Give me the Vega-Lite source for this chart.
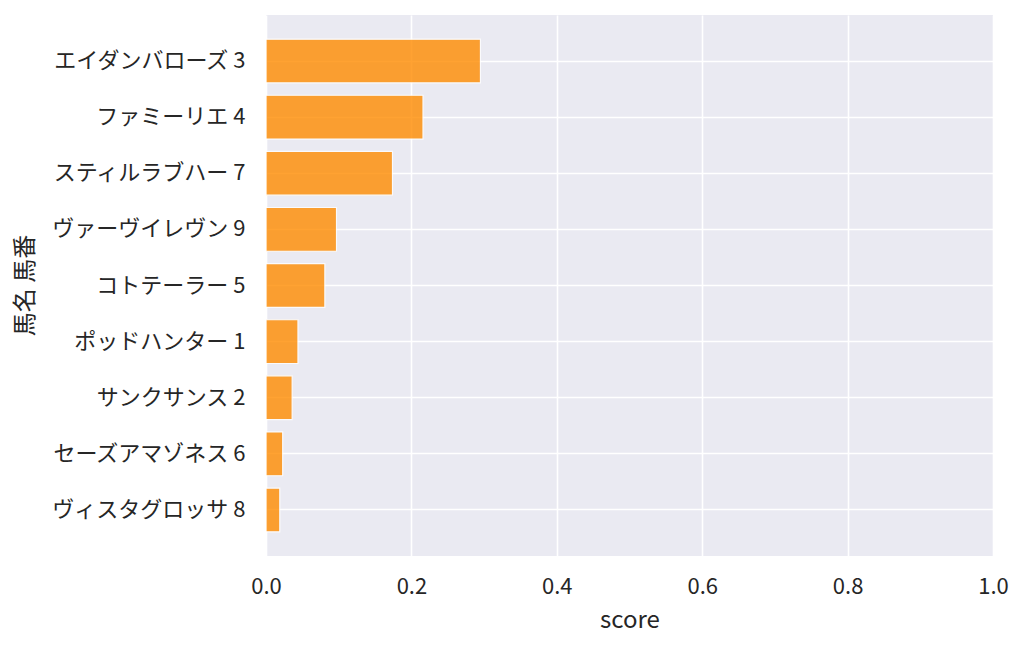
{
  "$schema": "https://vega.github.io/schema/vega-lite/v6.json",
  "width": 727,
  "height": 541,
  "autosize": {"type": "none"},
  "padding": {"left": 266, "top": 15, "right": 31, "bottom": 92},
  "background": "white",
  "data": {
    "values": [
      {"label": "エイダンバローズ 3", "score": 0.295},
      {"label": "ファミーリエ 4", "score": 0.216},
      {"label": "スティルラブハー 7", "score": 0.174},
      {"label": "ヴァーヴイレヴン 9", "score": 0.097},
      {"label": "コトテーラー 5", "score": 0.081},
      {"label": "ポッドハンター 1", "score": 0.044},
      {"label": "サンクサンス 2", "score": 0.036},
      {"label": "セーズアマゾネス 6", "score": 0.023},
      {"label": "ヴィスタグロッサ 8", "score": 0.019}
    ]
  },
  "mark": {
    "type": "bar",
    "fill": "#ff8c00",
    "opacity": 0.8,
    "stroke": "white",
    "strokeWidth": 1.2
  },
  "encoding": {
    "y": {
      "field": "label",
      "type": "nominal",
      "sort": null,
      "scale": {"paddingInner": 0.22, "paddingOuter": 0.43},
      "axis": {
        "title": "馬名 馬番",
        "titleX": -241,
        "titleY": 270,
        "titleAngle": -90,
        "titleAlign": "center",
        "titleBaseline": "middle",
        "grid": true,
        "bandPosition": 0.5,
        "labelPadding": 21,
        "labelLimit": 400
      }
    },
    "x": {
      "field": "score",
      "type": "quantitative",
      "scale": {"domain": [0, 1], "nice": false},
      "axis": {
        "title": "score",
        "values": [0, 0.2, 0.4, 0.6, 0.8, 1.0],
        "format": ".1f",
        "grid": true,
        "labelFlush": false,
        "labelPadding": 20,
        "titlePadding": 11
      }
    }
  },
  "config": {
    "font": "Noto Sans CJK JP",
    "view": {"fill": "#eaeaf2", "stroke": null},
    "axis": {
      "domain": false,
      "ticks": false,
      "gridColor": "white",
      "gridWidth": 1.6,
      "gridOpacity": 1,
      "labelFont": "Noto Sans CJK JP",
      "labelFontSize": 22,
      "labelColor": "#262626",
      "titleFont": "Noto Sans CJK JP",
      "titleFontSize": 24,
      "titleFontWeight": "normal",
      "titleColor": "#262626"
    }
  }
}
